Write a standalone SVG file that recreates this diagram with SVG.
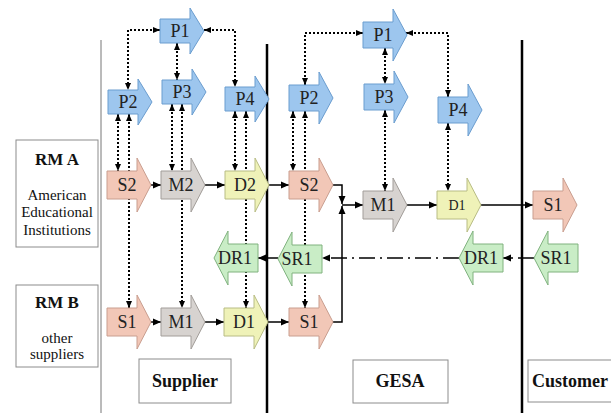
<svg xmlns="http://www.w3.org/2000/svg" width="611" height="413" viewBox="0 0 611 413" font-family="Liberation Serif, DejaVu Serif, Times New Roman, serif">
<style>
.p{fill:#9dc6ee;stroke:#6b9dcf;stroke-width:1}
.s{fill:#f2c7b7;stroke:#c99e8f;stroke-width:1}
.m{fill:#d7d3d0;stroke:#a29d99;stroke-width:1}
.d{fill:#eff2b8;stroke:#b8bc84;stroke-width:1}
.g{fill:#c9edc6;stroke:#80b27f;stroke-width:1}
.t{font-size:18px;fill:#222;text-anchor:middle}
.lb{fill:#111;text-anchor:middle}
.box{fill:#fff;stroke:#8c8c8c;stroke-width:1}
.sol{fill:none;stroke:#000;stroke-width:1.5}
.dot{fill:none;stroke:#000;stroke-width:2;stroke-dasharray:2 2}
.dd{fill:none;stroke:#000;stroke-width:1.5;stroke-dasharray:16 5 2 5}
.sep{stroke:#000;stroke-width:2.5}
</style>
<defs>
<marker id="ah" viewBox="0 0 8 8" refX="8" refY="4" markerWidth="8" markerHeight="8" markerUnits="userSpaceOnUse" orient="auto-start-reverse"><path d="M0,0.5 L8,4 L0,7.5 Z" fill="#000"/></marker>
<marker id="as" viewBox="0 0 7 7" refX="7" refY="3.5" markerWidth="7" markerHeight="7" markerUnits="userSpaceOnUse" orient="auto-start-reverse"><path d="M0,0.5 L7,3.5 L0,6.5 Z" fill="#000"/></marker>
</defs>

<g id="separators">
<line x1="101" y1="40" x2="101" y2="413" stroke="#777" stroke-width="1"/>
<line class="sep" x1="267" y1="44" x2="267" y2="413"/>
<line class="sep" x1="522" y1="40" x2="522" y2="413"/>
</g>

<g id="connectors">
<path class="dot" d="M160,30 H128 V90" marker-start="url(#as)" marker-end="url(#as)"/>
<path class="dot" d="M204,30 H235 V87" marker-start="url(#as)" marker-end="url(#as)"/>
<path class="dot" d="M177,43 V80" marker-start="url(#as)" marker-end="url(#as)"/>
<path class="dot" d="M118,114 V171" marker-start="url(#as)" marker-end="url(#as)"/>
<path class="dot" d="M129,114 V308" marker-start="url(#as)" marker-end="url(#as)"/>
<path class="dot" d="M172,104 V171" marker-start="url(#as)" marker-end="url(#as)"/>
<path class="dot" d="M182,104 V308" marker-start="url(#as)" marker-end="url(#as)"/>
<path class="dot" d="M235,111 V171" marker-start="url(#as)" marker-end="url(#as)"/>
<path class="dot" d="M246,111 V308" marker-start="url(#as)" marker-end="url(#as)"/>
<path class="dot" d="M363,33 H305 V85" marker-start="url(#as)" marker-end="url(#as)"/>
<path class="dot" d="M406,33 H448 V97" marker-start="url(#as)" marker-end="url(#as)"/>
<path class="dot" d="M385,48 V84" marker-start="url(#as)" marker-end="url(#as)"/>
<path class="dot" d="M293,111 V171" marker-start="url(#as)" marker-end="url(#as)"/>
<path class="dot" d="M305,111 V308" marker-start="url(#as)" marker-end="url(#as)"/>
<path class="dot" d="M385,110 V191" marker-start="url(#as)" marker-end="url(#as)"/>
<path class="dot" d="M448,123 V191" marker-start="url(#as)" marker-end="url(#as)"/>
<path class="sol" d="M151,185 H161" marker-end="url(#ah)"/>
<path class="sol" d="M205,185 H225" marker-end="url(#ah)"/>
<path class="sol" d="M269,185 H289" marker-end="url(#ah)"/>
<path class="sol" d="M333,185 H342 V204" marker-end="url(#ah)"/>
<path class="sol" d="M333,322 H342 V206" marker-end="url(#ah)"/>
<path class="sol" d="M342,205 H363" marker-end="url(#ah)"/>
<path class="sol" d="M407,205 H437" marker-end="url(#ah)"/>
<path class="sol" d="M481,205 H533" marker-end="url(#ah)"/>
<path class="sol" d="M151,322 H161" marker-end="url(#ah)"/>
<path class="sol" d="M205,322 H224" marker-end="url(#ah)"/>
<path class="sol" d="M268,322 H289" marker-end="url(#ah)"/>
<path class="sol" d="M278,258 H258" marker-end="url(#ah)"/>
<path class="dd" d="M459,258 H322" marker-end="url(#ah)"/>
<path class="dd" d="M534,258 H503" stroke-dasharray="12 5 2 5" marker-end="url(#ah)"/>
</g>

<g id="sup-P1"><path class="p" d="M160,19 H190 V8 L204,31 L190,54 V43 H160 Z"/><text class="t" x="180" y="37">P1</text></g>
<g id="sup-P2"><path class="p" d="M108,90 H138 V79 L152,102 L138,125 V114 H108 Z"/><text class="t" x="128" y="108">P2</text></g>
<g id="sup-P3"><path class="p" d="M162,80 H192 V69 L206,92 L192,115 V104 H162 Z"/><text class="t" x="182" y="98">P3</text></g>
<g id="sup-P4"><path class="p" d="M225,87 H255 V76 L269,99 L255,122 V111 H225 Z"/><text class="t" x="245" y="105">P4</text></g>
<g id="sup-S2"><path class="s" d="M107,171 H137 V158 L151,185 L137,212 V199 H107 Z"/><text class="t" x="127" y="191">S2</text></g>
<g id="sup-M2"><path class="m" d="M161,171 H191 V158 L205,185 L191,212 V199 H161 Z"/><text class="t" x="181" y="191">M2</text></g>
<g id="sup-D2"><path class="d" d="M225,171 H255 V158 L269,185 L255,212 V199 H225 Z"/><text class="t" x="245" y="191">D2</text></g>
<g id="sup-DR1"><path class="g" d="M214,258 L228,231 V244 H258 V272 H228 V285 Z"/><text class="t" x="235" y="264">DR1</text></g>
<g id="sup-S1"><path class="s" d="M107,308 H137 V295 L151,322 L137,349 V336 H107 Z"/><text class="t" x="127" y="328">S1</text></g>
<g id="sup-M1"><path class="m" d="M161,308 H191 V295 L205,322 L191,349 V336 H161 Z"/><text class="t" x="181" y="328">M1</text></g>
<g id="sup-D1"><path class="d" d="M224,308 H254 V295 L268,322 L254,349 V336 H224 Z"/><text class="t" x="244" y="328">D1</text></g>

<g id="gesa-P1"><path class="p" d="M363,22 H393 V9 L407,35 L393,61 V48 H363 Z"/><text class="t" x="383" y="41">P1</text></g>
<g id="gesa-P2"><path class="p" d="M289,85 H319 V72 L333,98 L319,124 V111 H289 Z"/><text class="t" x="309" y="104">P2</text></g>
<g id="gesa-P3"><path class="p" d="M364,84 H394 V71 L408,97 L394,123 V110 H364 Z"/><text class="t" x="384" y="103">P3</text></g>
<g id="gesa-P4"><path class="p" d="M438,97 H468 V84 L482,110 L468,136 V123 H438 Z"/><text class="t" x="458" y="116">P4</text></g>
<g id="gesa-S2"><path class="s" d="M289,171 H319 V158 L333,185 L319,212 V199 H289 Z"/><text class="t" x="309" y="191">S2</text></g>
<g id="gesa-M1"><path class="m" d="M363,191 H393 V178 L407,205 L393,232 V219 H363 Z"/><text class="t" x="383" y="211">M1</text></g>
<g id="gesa-D1"><path class="d" d="M437,191 H467 V178 L481,205 L467,232 V219 H437 Z"/><text class="t" x="457" y="210" style="font-size:14px">D1</text></g>
<g id="gesa-SR1"><path class="g" d="M278,259 L292,232 V245 H322 V273 H292 V286 Z"/><text class="t" x="297" y="265">SR1</text></g>
<g id="gesa-DR1"><path class="g" d="M459,258 L473,231 V244 H503 V272 H473 V285 Z"/><text class="t" x="481" y="264">DR1</text></g>
<g id="gesa-S1"><path class="s" d="M289,308 H319 V295 L333,322 L319,349 V336 H289 Z"/><text class="t" x="309" y="328">S1</text></g>

<g id="cust-S1"><path class="s" d="M533,191 H563 V178 L577,205 L563,232 V219 H533 Z"/><text class="t" x="553" y="211">S1</text></g>
<g id="cust-SR1"><path class="g" d="M534,258 L548,231 V244 H578 V272 H548 V285 Z"/><text class="t" x="556" y="264">SR1</text></g>

<g id="label-RMA"><rect class="box" x="16" y="140" width="82" height="107"/>
<text class="lb" x="57" y="165" font-size="17" font-weight="bold">RM A</text>
<text class="lb" x="57" y="200" font-size="15">American</text>
<text class="lb" x="57" y="217" font-size="15">Educational</text>
<text class="lb" x="57" y="235" font-size="15">Institutions</text></g>
<g id="label-RMB"><rect class="box" x="16" y="285" width="82" height="82"/>
<text class="lb" x="57" y="308" font-size="17" font-weight="bold">RM B</text>
<text class="lb" x="57" y="343" font-size="15">other</text>
<text class="lb" x="57" y="359" font-size="15">suppliers</text></g>
<g id="label-Supplier"><rect class="box" x="139" y="359" width="92" height="44"/><text class="lb" x="185" y="387" font-size="18" font-weight="bold">Supplier</text></g>
<g id="label-GESA"><rect class="box" x="353" y="360" width="95" height="43"/><text class="lb" x="400" y="387" font-size="18" font-weight="bold">GESA</text></g>
<g id="label-Customer"><rect class="box" x="528" y="360" width="90" height="42"/><text class="lb" x="532" y="387" font-size="18" font-weight="bold" text-anchor="start" style="text-anchor:start">Customer</text></g>
</svg>
